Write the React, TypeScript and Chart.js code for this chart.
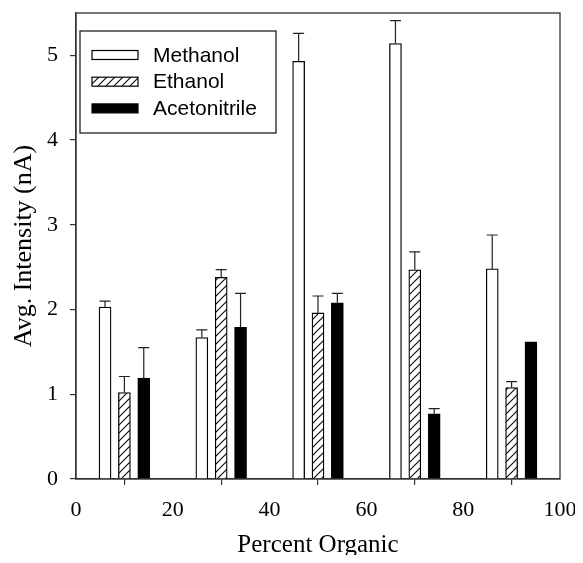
import React, { useEffect, useRef } from 'react';
import { Chart, registerables } from 'chart.js';

Chart.register(...registerables);

// ---- data ----
const percentOrganic = [10, 30, 50, 70, 90];
const seriesNames = ['Methanol', 'Ethanol', 'Acetonitrile'];
const methanol = [2.03, 1.67, 4.93, 5.14, 2.48];
const methanolErr = [0.07, 0.09, 0.33, 0.27, 0.4];
const ethanol = [1.02, 2.38, 1.96, 2.47, 1.08];
const ethanolErr = [0.19, 0.09, 0.2, 0.21, 0.07];
const acetonitrile = [1.19, 1.79, 2.08, 0.77, 1.62];
const acetonitrileErr = [0.36, 0.4, 0.11, 0.06, 0];
const xTickValues = [0, 20, 40, 60, 80, 100];
const yTickValues = [0, 1, 2, 3, 4, 5];

const seriesValues = [methanol, ethanol, acetonitrile];
const seriesErrors = [methanolErr, ethanolErr, acetonitrileErr];
const seriesOffsets = [-4, 0, 4];

function makeHatch(): CanvasPattern | string {
  const c = document.createElement('canvas');
  c.width = 8;
  c.height = 8;
  const g = c.getContext('2d');
  if (!g) return '#fff';
  g.fillStyle = '#fff';
  g.fillRect(0, 0, 8, 8);
  g.strokeStyle = '#111';
  g.lineWidth = 1.2;
  g.beginPath();
  g.moveTo(0, 8);
  g.lineTo(8, 0);
  g.moveTo(-1, 1);
  g.lineTo(1, -1);
  g.moveTo(7, 9);
  g.lineTo(9, 7);
  g.stroke();
  return g.createPattern(c, 'repeat') || '#fff';
}

const errorBarPlugin = {
  id: 'errorBars',
  afterDatasetsDraw(chart: any) {
    const { ctx } = chart;
    const yScale = chart.scales.y;
    ctx.save();
    ctx.strokeStyle = '#222';
    ctx.lineWidth = 1.2;
    chart.data.datasets.forEach((ds: any, i: number) => {
      const meta = chart.getDatasetMeta(i);
      const errs = seriesErrors[i];
      meta.data.forEach((el: any, j: number) => {
        const e = errs[j];
        if (!e) return;
        const v = seriesValues[i][j];
        const yTop = yScale.getPixelForValue(v + e);
        ctx.beginPath();
        ctx.moveTo(el.x, el.y);
        ctx.lineTo(el.x, yTop);
        ctx.moveTo(el.x - 5.5, yTop);
        ctx.lineTo(el.x + 5.5, yTop);
        ctx.stroke();
      });
    });
    ctx.restore();
  },
};

const framePlugin = {
  id: 'frame',
  afterDraw(chart: any) {
    const { ctx, chartArea: a } = chart;
    ctx.save();
    ctx.strokeStyle = '#333';
    ctx.lineWidth = 1.3;
    ctx.strokeRect(a.left, a.top, a.right - a.left, a.bottom - a.top);
    ctx.restore();
  },
};

const legendPlugin = {
  id: 'insideLegend',
  afterDraw(chart: any) {
    const { ctx, chartArea: a } = chart;
    const bx = a.left + 4;
    const by = a.top + 18;
    const bw = 196;
    const bh = 102;
    ctx.save();
    ctx.fillStyle = '#fff';
    ctx.fillRect(bx, by, bw, bh);
    ctx.strokeStyle = '#222';
    ctx.lineWidth = 1.3;
    ctx.strokeRect(bx, by, bw, bh);
    chart.data.datasets.forEach((ds: any, i: number) => {
      const cy = by + 24 + i * 26.7;
      const sx = bx + 12;
      ctx.fillStyle = ds.backgroundColor;
      ctx.fillRect(sx, cy - 4.5, 46, 9);
      ctx.strokeStyle = '#000';
      ctx.lineWidth = 1.2;
      ctx.strokeRect(sx, cy - 4.5, 46, 9);
      ctx.fillStyle = '#000';
      ctx.font = '21px "Liberation Sans", Arial, sans-serif';
      ctx.textBaseline = 'middle';
      ctx.textAlign = 'left';
      ctx.fillText(ds.label, bx + 73, cy + 1);
    });
    ctx.restore();
  },
};

export default function App() {
  const ref = useRef<HTMLCanvasElement | null>(null);

  useEffect(() => {
    if (!ref.current) return;
    const hatch = makeHatch();
    const fills: any[] = ['#ffffff', hatch, '#000000'];
    const datasets = seriesNames.map((name, i) => ({
      label: name,
      data: percentOrganic.map((p, j) => ({ x: p + seriesOffsets[i], y: seriesValues[i][j] })),
      backgroundColor: fills[i],
      borderColor: '#000',
      borderWidth: 1.3,
      barThickness: 12,
      grouped: false,
    }));

    Chart.defaults.color = '#000';
    const chart = new Chart(ref.current, {
      type: 'bar',
      data: { datasets } as any,
      options: {
        animation: false,
        responsive: false,
        maintainAspectRatio: false,
        layout: { padding: { left: 0, top: 5, right: 15, bottom: 0 } },
        plugins: { legend: { display: false }, tooltip: { enabled: false } },
        scales: {
          x: {
            type: 'linear',
            min: 0,
            max: 100,
            offset: false,
            afterBuildTicks: (s: any) => {
              s.ticks = xTickValues.map((v) => ({ value: v }));
            },
            afterFit: (s: any) => {
              s.height = 76;
              s.paddingLeft = 0;
              s.paddingRight = 0;
            },
            ticks: {
              font: { family: '"Liberation Serif", "Times New Roman", serif', size: 22 },
              color: '#000',
              padding: 12,
              maxRotation: 0,
              autoSkip: false,
            },
            grid: {
              display: true,
              drawOnChartArea: false,
              drawTicks: true,
              tickLength: 6,
              color: '#333',
              lineWidth: 1.2,
            },
            border: { display: true, color: '#333', width: 1.3 },
            title: {
              display: true,
              text: 'Percent Organic',
              color: '#000',
              font: { family: '"Liberation Serif", "Times New Roman", serif', size: 25, lineHeight: 1 },
              padding: { top: 0, bottom: -3 },
            },
          },
          y: {
            type: 'linear',
            min: 0,
            max: 5.5,
            afterBuildTicks: (s: any) => {
              s.ticks = yTickValues.map((v) => ({ value: v }));
            },
            afterFit: (s: any) => {
              s.width = 68;
              s.paddingTop = 0;
              s.paddingBottom = 0;
            },
            ticks: {
              font: { family: '"Liberation Serif", "Times New Roman", serif', size: 22 },
              color: '#000',
              padding: 12,
            },
            grid: {
              display: true,
              drawOnChartArea: false,
              drawTicks: true,
              tickLength: 6,
              color: '#333',
              lineWidth: 1.2,
            },
            border: { display: true, color: '#333', width: 1.3 },
            title: {
              display: true,
              text: 'Avg. Intensity (nA)',
              color: '#000',
              font: { family: '"Liberation Serif", "Times New Roman", serif', size: 26, lineHeight: 1 },
              padding: { top: 3, bottom: 0 },
            },
          },
        },
      } as any,
      plugins: [errorBarPlugin, framePlugin, legendPlugin],
    });
    return () => chart.destroy();
  }, []);

  return (
    <div style={{ position: 'relative', width: 567, height: 547 }}>
      <canvas
        ref={ref}
        width={567}
        height={547}
        style={{ display: 'block', width: 567, height: 547 }}
      />
    </div>
  );
}
